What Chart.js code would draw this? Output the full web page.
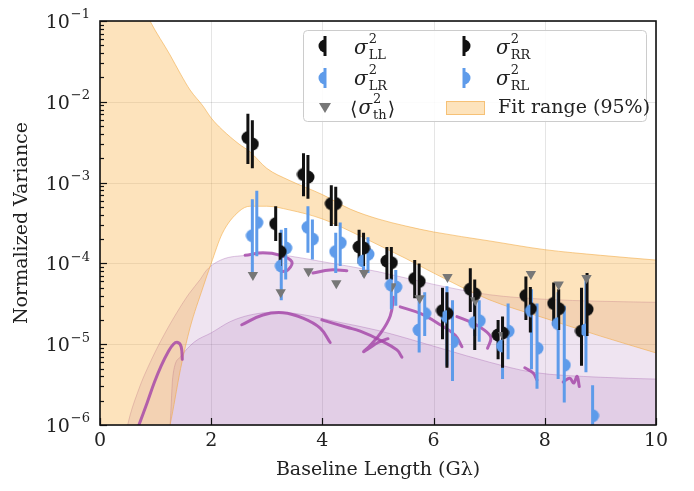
<!DOCTYPE html>
<html>
<head>
<meta charset="utf-8">
<script src="https://cdn.jsdelivr.net/npm/chart.js@4.4.0/dist/chart.umd.min.js"></script>
<style>
  html, body { margin: 0; padding: 0; background: #fff; }
  #wrap { position: relative; width: 694px; height: 491px; }
</style>
</head>
<body>
<div id="wrap"><canvas id="chart" width="694" height="491"></canvas></div>
<script>
// ===== DATA =====
const xTicks = [0, 2, 4, 6, 8, 10];
const yTicks = [1e-6, 1e-5, 1e-4, 1e-3, 1e-2, 1e-1];
const yTickExps = ['\u22126', '\u22125', '\u22124', '\u22123', '\u22122', '\u22121'];

// sigma^2 LL / RR (black)
const llX  = [2.66, 3.16, 3.66, 4.16, 4.66, 5.16, 5.66, 6.16, 6.66, 7.16, 7.66, 8.16, 8.66];
const llY  = [3.6e-3, 3.1e-4, 1.26e-3, 5.5e-4, 1.6e-4, 1.07e-4, 6.5e-5, 2.6e-5, 4.8e-5, 1.3e-5, 4.0e-5, 3.2e-5, 1.45e-5];
const llLo = [1.7e-3, 1.9e-4, 6.8e-4, 2.9e-4, 1.0e-4, 6.3e-5, 3.7e-5, 1.15e-5, 2.5e-5, 6.5e-6, 2.0e-5, 1.7e-5, 5.4e-6];
const llHi = [7.1e-3, 5.1e-4, 2.3e-3, 9.3e-4, 2.6e-4, 1.6e-4, 1.1e-4, 5.0e-5, 8.7e-5, 2.0e-5, 6.9e-5, 5.8e-5, 5.0e-5];

const rrX  = [2.74, 3.24, 3.74, 4.24, 4.74, 5.24, 5.74, 6.24, 6.74, 7.24, 7.74, 8.25, 8.76];
const rrY  = [3.0e-3, 1.4e-4, 1.17e-3, 5.5e-4, 1.55e-4, 1.02e-4, 6.0e-5, 2.4e-5, 4.2e-5, 1.38e-5, 2.75e-5, 2.75e-5, 2.7e-5];
const rrLo = [1.5e-3, 9.3e-5, 6.3e-4, 2.9e-4, 9.3e-5, 6.3e-5, 3.5e-5, 5.1e-6, 8.5e-6, 5.1e-6, 1.4e-5, 1.5e-5, 1.26e-5];
const rrHi = [5.9e-3, 2.4e-4, 2.2e-3, 8.9e-4, 2.4e-4, 1.6e-4, 1.0e-4, 4.4e-5, 6.3e-5, 2.2e-5, 5.1e-5, 4.8e-5, 7.6e-5];

// sigma^2 LR / RL (blue)
const lrX  = [2.74, 3.26, 3.74, 4.24, 4.74, 5.24, 5.74, 6.24, 6.74, 7.24, 7.76, 8.24, 8.74];
const lrY  = [2.2e-4, 9.3e-5, 2.8e-4, 1.4e-4, 1.07e-4, 5.4e-5, 1.5e-5, 2.2e-5, 1.85e-5, 9.5e-6, 2.6e-5, 1.8e-5, 1.5e-5];
const lrLo = [6.9e-5, 3.5e-5, 1.35e-4, 7.6e-5, 6.9e-5, 2.7e-5, 7.9e-6, 5.4e-6, 1.26e-5, 3.7e-6, 4.9e-6, 3.7e-6, 4.5e-6];
const lrHi = [6.2e-4, 2.6e-4, 5.1e-4, 2.4e-4, 1.95e-4, 7.2e-5, 3.5e-5, 5.2e-5, 3.5e-5, 2.0e-5, 4.8e-5, 4.4e-5, 6.3e-5];

const rlX  = [2.82, 3.34, 3.82, 4.32, 4.82, 5.32, 5.84, 6.34, 6.82, 7.34, 7.86, 8.35, 8.86];
const rlY  = [3.2e-4, 1.55e-4, 2.0e-4, 1.8e-4, 1.3e-4, 5.1e-5, 2.4e-5, 1.07e-5, 1.95e-5, 1.45e-5, 8.9e-6, 5.5e-6, 1.3e-6];
const rlLo = [1.23e-4, 6.3e-5, 1.12e-4, 9.3e-5, 7.6e-5, 3.0e-5, 1.26e-5, 3.5e-6, 1.07e-5, 6.5e-6, 2.8e-6, 1.9e-6, 6.3e-7];
const rlHi = [7.9e-4, 2.75e-4, 3.5e-4, 3.2e-4, 2.1e-4, 8.3e-5, 4.4e-5, 3.5e-5, 3.5e-5, 3.2e-5, 3.2e-5, 3.0e-5, 3.1e-6];

// <sigma^2_th> (grey triangles)
const thX = [2.75, 3.25, 3.75, 4.25, 4.75, 5.25, 5.75, 6.25, 6.75, 7.25, 7.75, 8.25, 8.75];
const thY = [7.2e-5, 4.4e-5, 8.0e-5, 5.7e-5, 7.6e-5, 5.2e-5, 3.7e-5, 6.8e-5, 3.5e-5, 1.3e-5, 7.4e-5, 5.5e-5, 6.6e-5];

// fit range (95%) band
const fitX  = [0, 0.5, 0.9, 1.26, 1.45, 1.62, 1.85, 2.0, 2.2, 2.5, 2.7, 3.0, 3.4, 4.0, 4.5, 5.0, 5.5, 6.0, 7.0, 8.0, 9.0, 10];
const fitHi = [1, 0.4, 0.1, 3.8e-2, 2.2e-2, 1.4e-2, 8.9e-3, 6.3e-3, 4.5e-3, 3.0e-3, 2.4e-3, 1.5e-3, 1.07e-3, 7.1e-4, 4.7e-4, 3.55e-4, 2.9e-4, 2.45e-4, 1.9e-4, 1.48e-4, 1.26e-4, 1.1e-4];
const fitLo = [1e-9, 1e-8, 1e-7, 1e-6, 5e-6, 1.6e-5, 5e-5, 1e-4, 2.35e-4, 4.4e-4, 5.1e-4, 5.1e-4, 4.6e-4, 3.55e-4, 2.5e-4, 1.7e-4, 1.15e-4, 7.6e-5, 3.55e-5, 2.1e-5, 1.26e-5, 7.8e-6];

// model envelopes (purple)
const outerX  = [0, 0.49, 0.7, 0.9, 1.1, 1.38, 1.6, 1.8, 1.92, 2.2, 2.64, 3.0, 3.42, 4.0, 5.0, 6.0, 7.0, 8.0, 9.0, 10];
const outerHi = [1e-8, 9.5e-7, 2.8e-6, 5.9e-6, 1.12e-5, 2.45e-5, 4.2e-5, 6.3e-5, 8.3e-5, 1.12e-4, 1.26e-4, 1.32e-4, 1.23e-4, 1.05e-4, 7.9e-5, 5.5e-5, 4.1e-5, 3.6e-5, 3.4e-5, 3.3e-5];
const innerX  = [1.1, 1.2, 1.26, 1.31, 1.45, 1.7, 2.0, 2.34, 2.7, 3.18, 3.6, 4.32, 5.0, 6.18, 7.0, 7.78, 9.0, 10];
const innerHi = [1e-7, 5e-7, 1e-6, 4e-6, 7e-6, 1.07e-5, 1.38e-5, 1.9e-5, 2.3e-5, 2.5e-5, 2.35e-5, 1.86e-5, 1.48e-5, 8.7e-6, 6.0e-6, 4.5e-6, 3.9e-6, 3.7e-6];

// model tracks (purple curves), [x, y]
const trackA = [[0.70, 1.0e-6], [0.85, 1.9e-6], [0.98, 3.4e-6], [1.10, 5.4e-6], [1.22, 7.9e-6], [1.32, 1.0e-5], [1.40, 1.05e-5], [1.46, 9.3e-6], [1.48, 6.5e-6]];
const trackB = [[2.55, 1.74e-5], [2.93, 2.3e-5], [3.29, 2.45e-5], [3.65, 2.1e-5], [3.96, 1.58e-5], [4.14, 1.05e-5]];
const trackC = [[3.99, 2.0e-5], [4.44, 1.62e-5], [4.68, 1.45e-5], [5.04, 1.12e-5], [5.34, 8.5e-6], [5.43, 6.9e-6]];
const trackD = [[5.28, 3.8e-5], [5.22, 2.24e-5], [5.05, 1.38e-5], [4.85, 9.5e-6], [4.74, 8.1e-6], [4.82, 8.7e-6], [5.00, 1.05e-5], [5.18, 1.17e-5]];
const trackE = [[5.40, 2.9e-5], [5.76, 2.4e-5], [6.12, 1.74e-5], [6.39, 1.29e-5], [6.51, 9.3e-6]];
const trackF = [[6.42, 2.2e-5], [6.71, 1.82e-5], [6.92, 1.48e-5], [7.03, 1.2e-5], [6.97, 8.9e-6]];
const trackG = [[2.61, 1.26e-4], [2.93, 1.35e-4], [3.24, 1.26e-4], [3.45, 1.05e-4], [3.38, 8.3e-5], [3.27, 7.9e-5]];
const trackH = [[3.83, 7.6e-5], [4.14, 8.3e-5], [4.44, 8.1e-5]];
const trackI = [[7.64, 5.1e-6], [7.79, 4.4e-6], [7.86, 3.6e-6]];
const trackJ = [[8.33, 3.4e-6], [8.45, 3.8e-6], [8.52, 3.3e-6], [8.58, 4.0e-6], [8.62, 3.0e-6]];
const tracks = [trackA, trackB, trackC, trackD, trackE, trackF, trackG, trackH, trackI, trackJ];

// ===== STYLE =====
const BLACK = '#111111';
const BLUE = '#5e9bea';
const GREY = '#777777';
const ORANGE_FILL = 'rgba(250, 178, 70, 0.36)';
const ORANGE_LINE = 'rgba(240, 165, 60, 0.55)';
const PURPLE_FILL = 'rgba(160, 92, 172, 0.17)';
const PURPLE_LINE = 'rgba(160, 92, 172, 0.35)';
const TRACK = 'rgba(165, 70, 168, 0.82)';
const SERIF = '"DejaVu Serif", "Liberation Serif", serif';

function halfDot(color, side) {
  const c = document.createElement('canvas');
  c.width = 14; c.height = 14;
  const g = c.getContext('2d');
  g.fillStyle = color;
  g.beginPath();
  g.arc(7, 7, 6.5, -Math.PI / 2, Math.PI / 2, side === 'L');
  g.closePath();
  g.fill();
  return c;
}

function pts(xs, ys) { return xs.map((x, i) => ({ x, y: ys[i] })); }

function errSegments(xs, lo, hi) {
  const d = [];
  xs.forEach((x, i) => { d.push({ x, y: lo[i] }, { x, y: hi[i] }, { x, y: null }); });
  return d;
}

function errSet(xs, lo, hi, color) {
  return { data: errSegments(xs, lo, hi), borderColor: color, borderWidth: 3, pointRadius: 0,
           spanGaps: false, tension: 0, fill: false, order: 5 };
}

function markSet(xs, ys, img) {
  return { data: pts(xs, ys), showLine: false, pointStyle: img, pointRadius: 6, order: 2 };
}

function bandLine(xs, ys, fill, bg, line, order) {
  return { data: pts(xs, ys), fill, backgroundColor: bg, borderColor: line, borderWidth: 1,
           pointRadius: 0, cubicInterpolationMode: 'monotone', order };
}

const datasets = [
  bandLine(innerX, innerHi, 'start', PURPLE_FILL, PURPLE_LINE, 10),
  bandLine(outerX, outerHi, 'start', PURPLE_FILL, PURPLE_LINE, 9),
  bandLine(fitX, fitHi, '+1', ORANGE_FILL, ORANGE_LINE, 8),
  bandLine(fitX, fitLo, false, ORANGE_FILL, ORANGE_LINE, 8),
  ...tracks.map(t => ({ data: t.map(p => ({ x: p[0], y: p[1] })), borderColor: TRACK, borderWidth: 3,
    pointRadius: 0, tension: 0.4, fill: false, borderCapStyle: 'round', order: 6 })),
  errSet(llX, llLo, llHi, BLACK),
  errSet(rrX, rrLo, rrHi, BLACK),
  errSet(lrX, lrLo, lrHi, BLUE),
  errSet(rlX, rlLo, rlHi, BLUE),
  { data: pts(thX, thY), showLine: false, pointStyle: 'triangle', rotation: 180, pointRadius: 6,
    backgroundColor: GREY, borderColor: GREY, borderWidth: 0, order: 4 },
  markSet(llX, llY, halfDot(BLACK, 'L')),
  markSet(rrX, rrY, halfDot(BLACK, 'R')),
  markSet(lrX, lrY, halfDot(BLUE, 'L')),
  markSet(rlX, rlY, halfDot(BLUE, 'R'))
];

// ===== PLUGINS =====
const gridPlugin = {
  id: 'grid',
  beforeDatasetsDraw(chart) {
    const { ctx, chartArea: a, scales: { x, y } } = chart;
    ctx.save();
    ctx.strokeStyle = 'rgba(0,0,0,0.1)';
    ctx.lineWidth = 1;
    xTicks.forEach(v => {
      const px = Math.round(x.getPixelForValue(v)) + 0.5;
      ctx.beginPath(); ctx.moveTo(px, a.top); ctx.lineTo(px, a.bottom); ctx.stroke();
    });
    yTicks.forEach(v => {
      const py = Math.round(y.getPixelForValue(v)) + 0.5;
      ctx.beginPath(); ctx.moveTo(a.left, py); ctx.lineTo(a.right, py); ctx.stroke();
    });
    ctx.restore();
  }
};

function drawSigma(ctx, x, y, sub, brackets) {
  ctx.textBaseline = 'middle';
  ctx.textAlign = 'left';
  ctx.fillStyle = '#222';
  if (brackets) {
    ctx.font = '19px ' + SERIF;
    ctx.fillText('\u27e8', x, y + 1);
    x += ctx.measureText('\u27e8').width + 1;
  }
  ctx.font = 'italic 20px ' + SERIF;
  ctx.fillText('\u03c3', x, y);
  x += ctx.measureText('\u03c3').width + 1;
  ctx.font = '13px ' + SERIF;
  ctx.fillText('2', x, y - 9);
  ctx.fillText(sub, x, y + 7);
  const w = Math.max(ctx.measureText('2').width, ctx.measureText(sub).width);
  if (brackets) {
    ctx.font = '19px ' + SERIF;
    ctx.fillText('\u27e9', x + w + 1, y + 1);
  }
}

function legendIcon(ctx, x, y, color, side) {
  ctx.save();
  ctx.strokeStyle = color; ctx.lineWidth = 3;
  ctx.beginPath(); ctx.moveTo(x, y - 10); ctx.lineTo(x, y + 10); ctx.stroke();
  ctx.drawImage(halfDot(color, side), x - 7, y - 7);
  ctx.restore();
}

const decorPlugin = {
  id: 'decor',
  afterDraw(chart) {
    const { ctx, chartArea: a, scales: { x, y } } = chart;
    ctx.save();
    // inward ticks
    ctx.strokeStyle = '#111'; ctx.lineWidth = 1.2;
    xTicks.forEach(v => {
      const px = Math.round(x.getPixelForValue(v)) + 0.5;
      ctx.beginPath(); ctx.moveTo(px, a.bottom); ctx.lineTo(px, a.bottom - 7); ctx.stroke();
    });
    yTicks.forEach((v, i) => {
      const py = Math.round(y.getPixelForValue(v)) + 0.5;
      ctx.beginPath(); ctx.moveTo(a.left, py); ctx.lineTo(a.left + 7, py); ctx.stroke();
      if (i < yTicks.length - 1) {
        for (let m = 2; m <= 9; m++) {
          const pm = Math.round(y.getPixelForValue(v * m)) + 0.5;
          ctx.beginPath(); ctx.moveTo(a.left, pm); ctx.lineTo(a.left + 4, pm); ctx.stroke();
        }
      }
    });
    // frame
    ctx.lineWidth = 1.6;
    ctx.strokeRect(a.left, a.top, a.right - a.left, a.bottom - a.top);

    // tick labels
    ctx.fillStyle = '#222';
    ctx.textBaseline = 'middle';
    ctx.font = '19px ' + SERIF;
    ctx.textAlign = 'center';
    xTicks.forEach(v => ctx.fillText(String(v), x.getPixelForValue(v), a.bottom + 16));
    yTicks.forEach((v, i) => {
      const py = y.getPixelForValue(v);
      ctx.font = '13px ' + SERIF;
      const ew = ctx.measureText(yTickExps[i]).width;
      ctx.textAlign = 'left';
      ctx.fillText(yTickExps[i], 90 - ew, py - 6);
      ctx.font = '19px ' + SERIF;
      const tw = ctx.measureText('10').width;
      ctx.fillText('10', 90 - ew - tw - 1, py + 2);
    });

    // axis titles
    ctx.font = '19px ' + SERIF;
    ctx.textAlign = 'center';
    ctx.fillText('Baseline Length (G\u03bb)', (a.left + a.right) / 2, 470);
    ctx.save();
    ctx.translate(22, (a.top + a.bottom) / 2);
    ctx.rotate(-Math.PI / 2);
    ctx.fillText('Normalized Variance', 0, 0);
    ctx.restore();

    // legend
    ctx.fillStyle = 'rgba(255,255,255,0.85)';
    ctx.strokeStyle = '#cccccc'; ctx.lineWidth = 1;
    ctx.beginPath();
    ctx.roundRect(303.5, 30.5, 343, 91, 4);
    ctx.fill(); ctx.stroke();

    legendIcon(ctx, 325, 46, BLACK, 'L');
    drawSigma(ctx, 354, 49, 'LL', false);
    legendIcon(ctx, 464, 46, BLACK, 'R');
    drawSigma(ctx, 496, 49, 'RR', false);
    legendIcon(ctx, 325, 78, BLUE, 'L');
    drawSigma(ctx, 354, 80, 'LR', false);
    legendIcon(ctx, 464, 78, BLUE, 'R');
    drawSigma(ctx, 496, 80, 'RL', false);

    ctx.fillStyle = GREY;
    ctx.beginPath();
    ctx.moveTo(319, 103); ctx.lineTo(331, 103); ctx.lineTo(325, 113); ctx.closePath();
    ctx.fill();
    drawSigma(ctx, 350, 109, 'th', true);

    ctx.fillStyle = ORANGE_FILL; ctx.strokeStyle = ORANGE_LINE;
    ctx.fillRect(446, 101, 39, 14);
    ctx.strokeRect(446.5, 101.5, 38, 13);
    ctx.fillStyle = '#222';
    ctx.font = '19px ' + SERIF;
    ctx.textAlign = 'left';
    ctx.fillText('Fit range (95%)', 498, 108);
    ctx.restore();
  }
};

// ===== CHART =====
new Chart(document.getElementById('chart'), {
  type: 'line',
  data: { datasets },
  plugins: [gridPlugin, decorPlugin],
  options: {
    responsive: false,
    animation: false,
    devicePixelRatio: 1,
    layout: { padding: { top: 21, right: 38, left: 0, bottom: 0 } },
    plugins: { legend: { display: false }, tooltip: { enabled: false } },
    scales: {
      x: {
        type: 'linear', min: 0, max: 10,
        ticks: { display: false, stepSize: 2 },
        grid: { display: false },
        border: { display: false },
        afterFit(scale) { scale.height = 66; }
      },
      y: {
        type: 'logarithmic', min: 1e-6, max: 1e-1,
        ticks: { display: false },
        grid: { display: false },
        border: { display: false },
        afterFit(scale) { scale.width = 100; }
      }
    }
  }
});
</script>
</body>
</html>
